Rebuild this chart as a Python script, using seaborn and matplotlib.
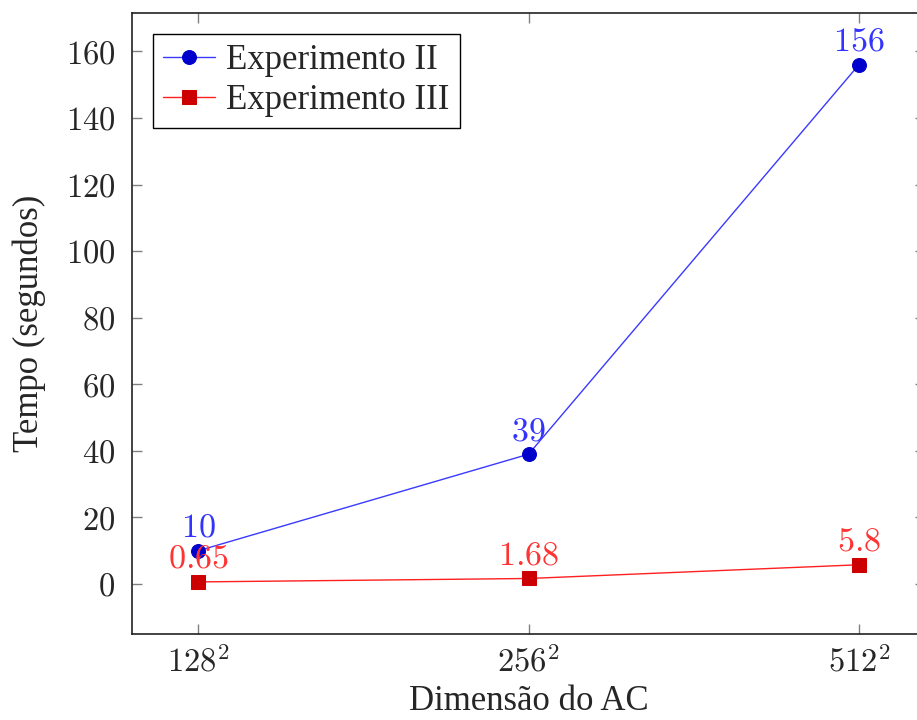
import pandas as pd
import matplotlib
matplotlib.use('Agg')
import matplotlib.pyplot as plt
import seaborn as sns

categories = [r'$128^2$', r'$256^2$', r'$512^2$']
exp2 = [10, 39, 156]
exp3 = [0.65, 1.68, 5.8]
exp2_labels = ['10', '39', '156']
exp3_labels = ['0.65', '1.68', '5.8']

sns.set_style('ticks')
plt.rcParams.update({'font.family': ['Liberation Serif', 'DejaVu Serif'],
                     'mathtext.fontset': 'cm'})

df = pd.DataFrame({'pos': range(len(categories)), 'II': exp2, 'III': exp3})

fig = plt.figure(figsize=(9.17, 7.2), dpi=100)
ax = fig.add_axes([0.144, 0.1194, 0.8648, 0.8625])

sns.lineplot(data=df, x='pos', y='II', ax=ax, color='#3a3aff', lw=1.0,
             marker='o', markersize=10, markerfacecolor='#0000cc',
             markeredgecolor='#0000cc', label='Experimento II')
sns.lineplot(data=df, x='pos', y='III', ax=ax, color='#ff2020', lw=1.0,
             marker='s', markersize=10, markerfacecolor='#cc0000',
             markeredgecolor='#cc0000', label='Experimento III')

for x, y, t in zip(df['pos'], exp2, exp2_labels):
    ax.annotate('$' + t + '$', (x, y), xytext=(0, 5), textcoords='offset points',
                ha='center', va='bottom', color='#3333ff', fontsize=24.5)
for x, y, t in zip(df['pos'], exp3, exp3_labels):
    ax.annotate('$' + t + '$', (x, y), xytext=(0, 5), textcoords='offset points',
                ha='center', va='bottom', color='#ff3333', fontsize=24.5)

ax.set_xlim(-0.2, 2.2)
ax.set_ylim(-15, 171.5)
ax.set_xticks(df['pos'])
ax.set_xticklabels(categories)
ax.set_yticks(range(0, 161, 20))
ax.set_yticklabels(['$%d$' % v for v in range(0, 161, 20)])
ax.tick_params(axis='both', direction='in', length=7, width=1, color='#808080',
               labelsize=23.5, top=True, right=True)
ax.tick_params(axis='y', pad=12)
ax.tick_params(axis='x', pad=9)
for s in ax.spines.values():
    s.set_linewidth(1.2)
    s.set_color('#222222')

ax.set_xlabel('Dimensão do AC', fontsize=25, labelpad=5)
ax.set_ylabel('Tempo (segundos)', fontsize=25, labelpad=14)

leg = ax.legend(loc='upper left', fontsize=25, frameon=True, fancybox=False,
                edgecolor='black', framealpha=1, handlelength=1.5,
                borderpad=0.3, labelspacing=0.2, handletextpad=0.3,
                borderaxespad=0.6)
leg.get_frame().set_linewidth(1.0)

fig.savefig('out.png', dpi=100)
